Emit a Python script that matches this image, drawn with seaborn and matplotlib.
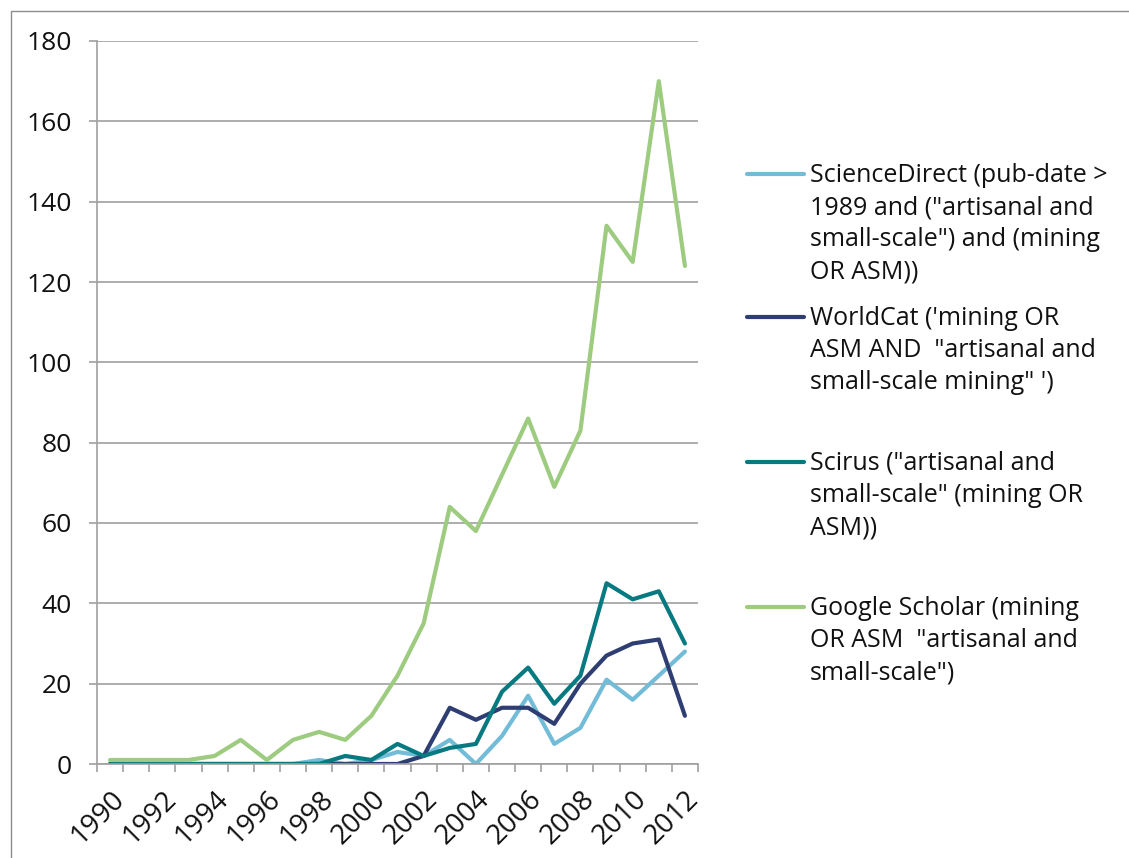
import seaborn as sns
import matplotlib.pyplot as plt
import matplotlib.lines as mlines
import matplotlib.patches as mpatches
import numpy as np
import pandas as pd

# data
years = list(range(1990, 2013))
science_direct = [0, 0, 0, 0, 0, 0, 0, 0, 1, 0, 1, 3, 2, 6, 0, 7, 17, 5, 9, 21, 16, 22, 28]
worldcat = [0, 0, 0, 0, 0, 0, 0, 0, 0, 0, 0, 0, 2, 14, 11, 14, 14, 10, 20, 27, 30, 31, 12]
scirus = [0, 0, 0, 0, 0, 0, 0, 0, 0, 2, 1, 5, 2, 4, 5, 18, 24, 15, 22, 45, 41, 43, 30]
google_scholar = [1, 1, 1, 1, 2, 6, 1, 6, 8, 6, 12, 22, 35, 64, 58, 72, 86, 69, 83, 134, 125, 170, 124]

series_names = [
    'ScienceDirect (pub-date >\n1989 and ("artisanal and\nsmall-scale") and (mining\nOR ASM))',
    'WorldCat (\'mining OR\nASM AND  "artisanal and\nsmall-scale mining" \')',
    'Scirus ("artisanal and\nsmall-scale" (mining OR\nASM))',
    'Google Scholar (mining\nOR ASM  "artisanal and\nsmall-scale")',
]
colors = ['#72BCD8', '#2F3E72', '#067A80', '#9DCB7F']
y_ticks = list(range(0, 181, 20))

df = pd.DataFrame({
    'year': years * 4,
    'count': science_direct + worldcat + scirus + google_scholar,
    'series': [n for n in series_names for _ in years],
})

sns.set_theme(style='white')
plt.rcParams['font.family'] = ['Open Sans', 'DejaVu Sans']

fig = plt.figure(figsize=(11.29, 8.58), dpi=100)
ax = fig.add_axes([97 / 1129, 1 - 764 / 858, (698 - 97) / 1129, (764 - 41) / 858])

sns.lineplot(data=df, x='year', y='count', hue='series', palette=dict(zip(series_names, colors)),
             linewidth=3.0, legend=False, ax=ax, sort=False)

grey = '#A0A0A0'
ax.set_xlim(1989.5, 2012.5)
ax.set_ylim(0, 180)
ax.set_yticks(y_ticks)
ax.yaxis.grid(True, color=grey, linewidth=1.2)
ax.set_axisbelow(True)
for s in ['top', 'right']:
    ax.spines[s].set_visible(False)
for s in ['left', 'bottom']:
    ax.spines[s].set_color(grey)
    ax.spines[s].set_linewidth(1.2)

ax.set_xticks(years[::2])
ax.set_xticks(np.arange(1989.5, 2013, 1), minor=True)
ax.tick_params(axis='x', which='major', length=0, pad=15, labelsize=20, labelcolor='#111111')
ax.tick_params(axis='x', which='minor', length=6, width=1.2, color=grey, direction='out', bottom=True)
ax.tick_params(axis='y', length=6, width=1.2, color=grey, direction='out', left=True, pad=12,
               labelsize=19, labelcolor='#111111')
for lab in ax.get_xticklabels():
    lab.set_rotation(45)
    lab.set_ha('right')
    lab.set_va('top')
    lab.set_rotation_mode('anchor')
ax.set_xlabel('')
ax.set_ylabel('')

# legend drawn by hand (handle aligned with first line of each entry)
W, H = 1129, 858
entry_y = [174, 317, 462, 607]
for name, c, yy in zip(series_names, colors, entry_y):
    fig.add_artist(mlines.Line2D([747 / W, 804 / W], [1 - yy / H, 1 - yy / H], color=c, linewidth=3.0))
    fig.text(810 / W, 1 - (yy - 11) / H, name, fontsize=18, color='#111111', va='top', ha='left',
             linespacing=1.38)

# outer chart border
fig.add_artist(mpatches.Rectangle((11 / W, -0.1), 1.2, 1.1 - 11 / H, transform=fig.transFigure,
                                  fill=False, edgecolor='#8C8C8C', linewidth=1.0))

fig.savefig('out.png', dpi=100)
